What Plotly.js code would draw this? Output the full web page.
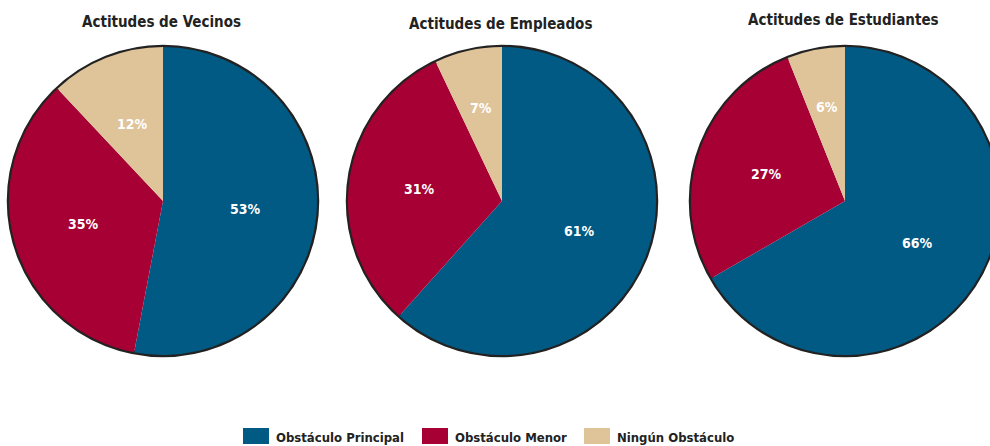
<!DOCTYPE html>
<html>
<head>
<meta charset="utf-8">
<script src="https://cdn.plot.ly/plotly-3.0.1.min.js"></script>
<style>
  html, body { margin: 0; padding: 0; overflow: hidden; background: #fff; }
  #chart { width: 1010px; height: 446px; }
</style>
</head>
<body>
<div id="chart"></div>
<script>
const categories = ['Obstáculo Principal', 'Obstáculo Menor', 'Ningún Obstáculo'];
const colors = ['#005a84', '#a60034', '#dfc399'];
const titles = ['Actitudes de Vecinos', 'Actitudes de Empleados', 'Actitudes de Estudiantes'];
const vecinos = [53, 35, 12];
const empleados = [61, 31, 7];
const estudiantes = [66, 27, 6];

const W = 1010, H = 446;
const px = x => x / W;
const py = y => 1 - y / H;
const font = 'DejaVu Sans Condensed, Liberation Sans Narrow, sans-serif';

// pixel centres of the three pies, shared radius
const centres = [163, 502, 845];
const cy = 201, r = 154;
const series = [vecinos, empleados, estudiantes];

const data = [];
const annotations = [];
series.forEach((vals, i) => {
    const domain = {
        x: [px(centres[i] - r), px(centres[i] + r)],
        y: [py(cy + r), py(cy - r)]
    };
    // dark ring drawn underneath the slices
    data.push({
        type: 'pie',
        values: [1],
        labels: ['ring'],
        domain: domain,
        marker: {colors: ['#ffffff'], line: {color: '#222', width: 4.5}},
        textinfo: 'none',
        hoverinfo: 'skip',
        showlegend: false,
        sort: false
    });
    data.push({
        type: 'pie',
        values: vals,
        labels: categories,
        domain: domain,
        sort: false,
        direction: 'clockwise',
        rotation: 0,
        marker: {colors: colors, line: {width: 0}},
        textinfo: 'none',
        showlegend: false
    });
    // percentage labels along each slice's bisector
    const total = vals.reduce((a, b) => a + b, 0);
    let cum = 0;
    vals.forEach(v => {
        const mid = (cum + v / 2) / total * 2 * Math.PI;
        cum += v;
        const d = r * (v < 10 ? 0.62 : 0.54);
        annotations.push({
            text: '<b>' + v + '%</b>',
            x: px(centres[i] + d * Math.sin(mid)),
            y: py(cy - d * Math.cos(mid)),
            xref: 'paper', yref: 'paper',
            xanchor: 'center', yanchor: 'middle',
            showarrow: false,
            font: {family: font, size: 14, color: '#ffffff'}
        });
    });
});

const titleY = [22, 24, 20];
titles.forEach((t, i) => annotations.push({
    text: '<b>' + t + '</b>',
    x: px(centres[i] - 2), y: py(titleY[i]),
    xref: 'paper', yref: 'paper',
    xanchor: 'center', yanchor: 'middle',
    showarrow: false,
    font: {family: font, size: 15, color: '#222'}
}));

// hand built legend along the bottom
const boxX = [243, 422, 584];
const shapes = [];
categories.forEach((c, i) => {
    shapes.push({
        type: 'rect', xref: 'paper', yref: 'paper',
        x0: px(boxX[i]), x1: px(boxX[i] + 26),
        y0: py(444), y1: py(428),
        fillcolor: colors[i], line: {width: 0}
    });
    annotations.push({
        text: '<b>' + c + '</b>',
        x: px(boxX[i] + 31), y: py(437),
        xref: 'paper', yref: 'paper',
        xanchor: 'left', yanchor: 'middle',
        showarrow: false,
        font: {family: font, size: 13, color: '#222'}
    });
});

const layout = {
    width: W,
    height: H,
    margin: {l: 0, r: 0, t: 0, b: 0},
    paper_bgcolor: '#ffffff',
    showlegend: false,
    annotations: annotations,
    shapes: shapes
};

Plotly.newPlot('chart', data, layout, {displayModeBar: false, staticPlot: true});
</script>
</body>
</html>
